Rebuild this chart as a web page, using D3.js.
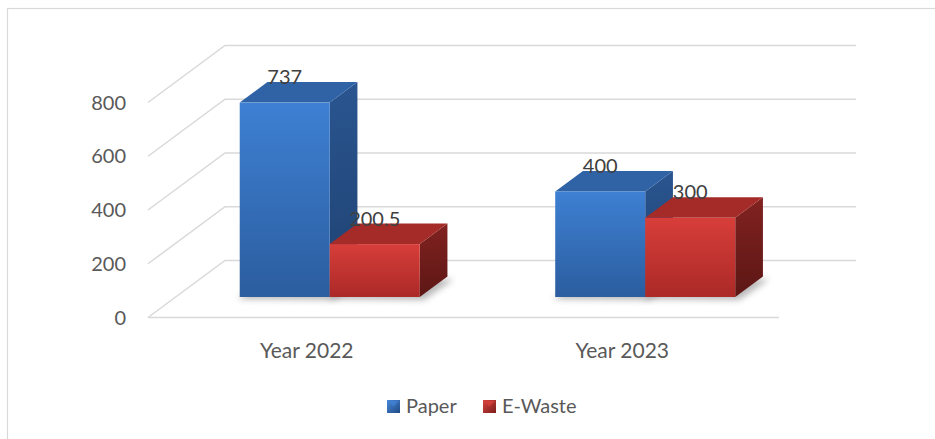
<!DOCTYPE html>
<html>
<head>
<meta charset="utf-8">
<script src="https://cdn.jsdelivr.net/npm/d3@7"></script>
<style>
  html, body { margin: 0; padding: 0; background: #ffffff; }
  svg { display: block; }
  text { font-family: Lato, "Open Sans", sans-serif; }
</style>
</head>
<body>
<svg id="chart" width="935" height="439"></svg>
<script>
// Chart data
const categories = ["Year 2022", "Year 2023"];
const seriesNames = ["Paper", "E-Waste"];
const paperValues = [737, 400];
const eWasteValues = [200.5, 300];
const valueLabels = [["737", "200.5"], ["400", "300"]];
const yTicks = [0, 200, 400, 600, 800];

const svg = d3.select("#chart");
const W = 935, H = 439;

// Plot geometry (oblique 3D box)
const front = { left: 148, right: 779, bottom: 317.5, top: 102.5 };
const depth = { dx: 77, dy: -57 };
const barDepthStart = 0.36, barDepthSize = 0.36;

const y = d3.scaleLinear().domain([0, 800]).range([front.bottom, front.top]);
// bars sit mid-depth, where the value scale is slightly compressed
const barH = d3.scaleLinear().domain([0, 800]).range([0, 211]);
const x0 = d3.scaleBand().domain(categories).range([front.left, front.right]);
const groupWidth = 180, groupLeft = 64;
const x1 = d3.scaleBand().domain(seriesNames).range([0, groupWidth]);

const palette = {
  "Paper":   { frontTop: "#3e80d3", frontBot: "#2b5d9f", sideTop: "#2a5590", sideBot: "#1f4272", top: "#3063a6", lgA: "#4a8ad8", lgB: "#1f4a85" },
  "E-Waste": { frontTop: "#d73e3a", frontBot: "#ab2927", sideTop: "#812220", sideBot: "#5c1715", top: "#a52b28", lgA: "#d84440", lgB: "#7a1d1b" }
};

const defs = svg.append("defs");
seriesNames.forEach((s, i) => {
  const p = palette[s];
  const gf = defs.append("linearGradient").attr("id", "front" + i).attr("x1", 0).attr("y1", 0).attr("x2", 0).attr("y2", 1);
  gf.append("stop").attr("offset", "0%").attr("stop-color", p.frontTop);
  gf.append("stop").attr("offset", "100%").attr("stop-color", p.frontBot);
  const gs = defs.append("linearGradient").attr("id", "side" + i).attr("x1", 0).attr("y1", 0).attr("x2", 0).attr("y2", 1);
  gs.append("stop").attr("offset", "0%").attr("stop-color", p.sideTop);
  gs.append("stop").attr("offset", "100%").attr("stop-color", p.sideBot);
  const gl = defs.append("linearGradient").attr("id", "legend" + i).attr("x1", 0).attr("y1", 0).attr("x2", 1).attr("y2", 1);
  gl.append("stop").attr("offset", "0%").attr("stop-color", p.lgA);
  gl.append("stop").attr("offset", "100%").attr("stop-color", p.lgB);
});
const shadow = defs.append("filter").attr("id", "shadow").attr("x", "-30%").attr("y", "-30%").attr("width", "160%").attr("height", "160%");
shadow.append("feGaussianBlur").attr("stdDeviation", 3);

// Outer chart frame
svg.append("rect")
  .attr("x", 7.5).attr("y", 8.5).attr("width", W + 20).attr("height", H + 20)
  .attr("fill", "none").attr("stroke", "#d9d9d9").attr("stroke-width", 1.2);

// Gridlines: left wall diagonals + back wall horizontals
const grid = svg.append("g").attr("stroke", "#d9d9d9").attr("stroke-width", 1.5).attr("fill", "none");
yTicks.forEach(t => {
  const yf = y(t);
  grid.append("path").attr("d",
    `M${front.left},${yf} L${front.left + depth.dx},${yf + depth.dy} L${front.right + depth.dx},${yf + depth.dy}`);
});
// Front floor edge
grid.append("line")
  .attr("x1", front.left).attr("x2", front.right)
  .attr("y1", y(0)).attr("y2", y(0));

// Y axis labels
svg.append("g").selectAll("text").data(yTicks).join("text")
  .attr("x", 126).attr("y", d => y(d))
  .attr("dy", "0.35em").attr("text-anchor", "end")
  .attr("font-size", 20).attr("fill", "#595959")
  .text(d => d);

// Category labels
svg.append("g").selectAll("text").data(categories).join("text")
  .attr("x", d => x0(d) + x0.bandwidth() / 2 + 1).attr("y", 358)
  .attr("text-anchor", "middle").attr("font-size", 21).attr("fill", "#595959")
  .text(d => d);

// Bars
const offX = depth.dx * barDepthStart, offY = depth.dy * barDepthStart;
const bdx = depth.dx * barDepthSize, bdy = depth.dy * barDepthSize;

const bars = [];
categories.forEach((c, ci) => {
  [paperValues[ci], eWasteValues[ci]].forEach((v, si) => {
    const s = seriesNames[si];
    const xl = x0(c) + groupLeft + x1(s) + offX;
    const xr = xl + x1.bandwidth();
    const yb = y(0) + offY;
    const yt = yb - barH(v);
    bars.push({ c, s, si, ci, v, xl, xr, yb, yt, label: valueLabels[ci][si] });
  });
});

const barG = svg.append("g");
// soft floor shadows
barG.selectAll("path.sh").data(bars).join("path")
  .attr("class", "sh")
  .attr("d", b => `M${b.xl - 2},${b.yb + 2} L${b.xr + 4},${b.yb + 3} L${b.xr + bdx + 6},${b.yb + bdy + 3} L${b.xl + bdx},${b.yb + bdy} Z`)
  .attr("fill", "#7f7f7f").attr("opacity", 0.55).attr("filter", "url(#shadow)");

bars.forEach(b => {
  const g = barG.append("g");
  // side face
  g.append("path")
    .attr("d", `M${b.xr},${b.yt} L${b.xr + bdx},${b.yt + bdy} L${b.xr + bdx},${b.yb + bdy} L${b.xr},${b.yb} Z`)
    .attr("fill", `url(#side${b.si})`);
  // top face
  g.append("path")
    .attr("d", `M${b.xl},${b.yt} L${b.xl + bdx},${b.yt + bdy} L${b.xr + bdx},${b.yt + bdy} L${b.xr},${b.yt} Z`)
    .attr("fill", palette[b.s].top);
  // front face
  g.append("rect")
    .attr("x", b.xl).attr("y", b.yt).attr("width", b.xr - b.xl).attr("height", b.yb - b.yt)
    .attr("fill", `url(#front${b.si})`);
});

// Value labels
svg.append("g").selectAll("text").data(bars).join("text")
  .attr("x", b => (b.xl + b.xr) / 2).attr("y", b => b.yt + bdy + 2)
  .attr("text-anchor", "middle").attr("font-size", 20).attr("fill", "#404040")
  .text(b => b.label);

// Legend
const legend = svg.append("g");
const legendItems = [{ s: "Paper", x: 387 }, { s: "E-Waste", x: 483 }];
legendItems.forEach((it, i) => {
  legend.append("rect").attr("x", it.x).attr("y", 400).attr("width", 13).attr("height", 13)
    .attr("fill", `url(#legend${i})`);
  legend.append("path")
    .attr("d", `M${it.x + 1},${401} L${it.x + 6.5},${406.5} L${it.x + 12},${401} Z`)
    .attr("fill", palette[it.s].frontTop).attr("opacity", 0.8);
  legend.append("text").attr("x", it.x + 19).attr("y", 413)
    .attr("font-size", 20).attr("fill", "#595959").text(it.s);
});
</script>
</body>
</html>
